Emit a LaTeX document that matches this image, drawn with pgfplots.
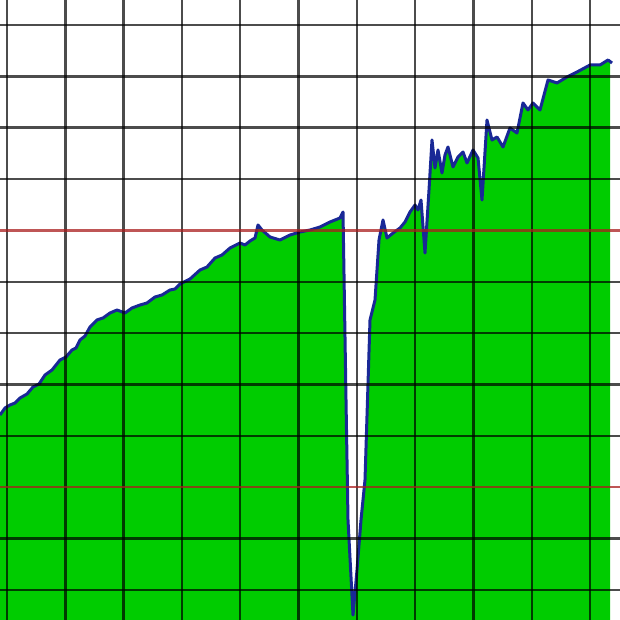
\documentclass[border=0pt]{standalone}
\usepackage{pgfplots}
\usepackage{pgfplotstable}
\pgfplotsset{compat=1.18}
\definecolor{areagreen}{RGB}{0,204,0}
\definecolor{lineblue}{RGB}{25,40,150}
\definecolor{gridred}{RGB}{170,30,30}
\pgfplotstableread{
x y
0 205
5 212
10 215
15 217
20 222
27 226
33 233
39 236
45 245
52 250
60 260
66 263
72 270
76 272
80 280
85 284
90 293
97 300
103 302
110 307
117 310
125 307
132 312
140 315
147 317
155 323
162 325
170 330
175 331
180 336
190 341
200 350
207 353
215 362
222 365
230 372
240 377
245 375
250 379
255 382
258 395
262 390
270 383
280 380
290 385
300 388
310 390
320 393
330 398
340 402
343 408
346 220
348 100
353 5
357 50
361 100
365 140
370 300
375 320
379 380
383 400
387 382
393 387
400 392
405 398
410 408
415 415
418 410
421 420
425 367
429 430
432 480
435 452
438 470
442 447
445 465
448 473
453 453
458 463
463 468
467 457
473 470
478 462
482 420
487 500
492 480
497 483
503 473
510 492
517 487
523 517
528 510
533 517
540 510
548 540
557 537
567 543
577 548
590 555
600 555
608 560
}\series
\begin{document}
\begin{tikzpicture}
\begin{axis}[
  width=620pt, height=620pt, scale only axis,
  xmin=0, xmax=620, ymin=0, ymax=620,
  axis line style={draw=none},
  xtick={7,65.3,123.6,181.9,240.2,298.5,356.8,415.1,473.4,531.7,590},
  ytick={30,81.4,184.1,235.5,286.8,338.2,440.9,492.3,543.6,595},
  extra y ticks={132.7,389.5},
  extra y tick labels={},
  extra y tick style={grid=major, major grid style={draw=gridred, opacity=0.75, line width=2.4pt}},
  xticklabels={}, yticklabels={},
  tick label style={inner sep=0pt},
  major tick length=0pt,
  tick style={draw=none},
  grid=major,
  major grid style={draw=black, opacity=0.7, line width=2.4pt},
  axis on top,
]
\addplot[fill=areagreen, draw=none] table[x=x,y=y] {\series} -- (axis cs:610,560) -- (axis cs:610,0) -- (axis cs:0,0) -- cycle;
\addplot[draw=lineblue, line width=3pt, line join=round, mark=none] table[x=x,y=y] {\series} -- (axis cs:612,557);
\end{axis}
\pgfresetboundingbox
\path[use as bounding box] (0,0) rectangle (620pt,620pt);
\end{tikzpicture}
\end{document}
